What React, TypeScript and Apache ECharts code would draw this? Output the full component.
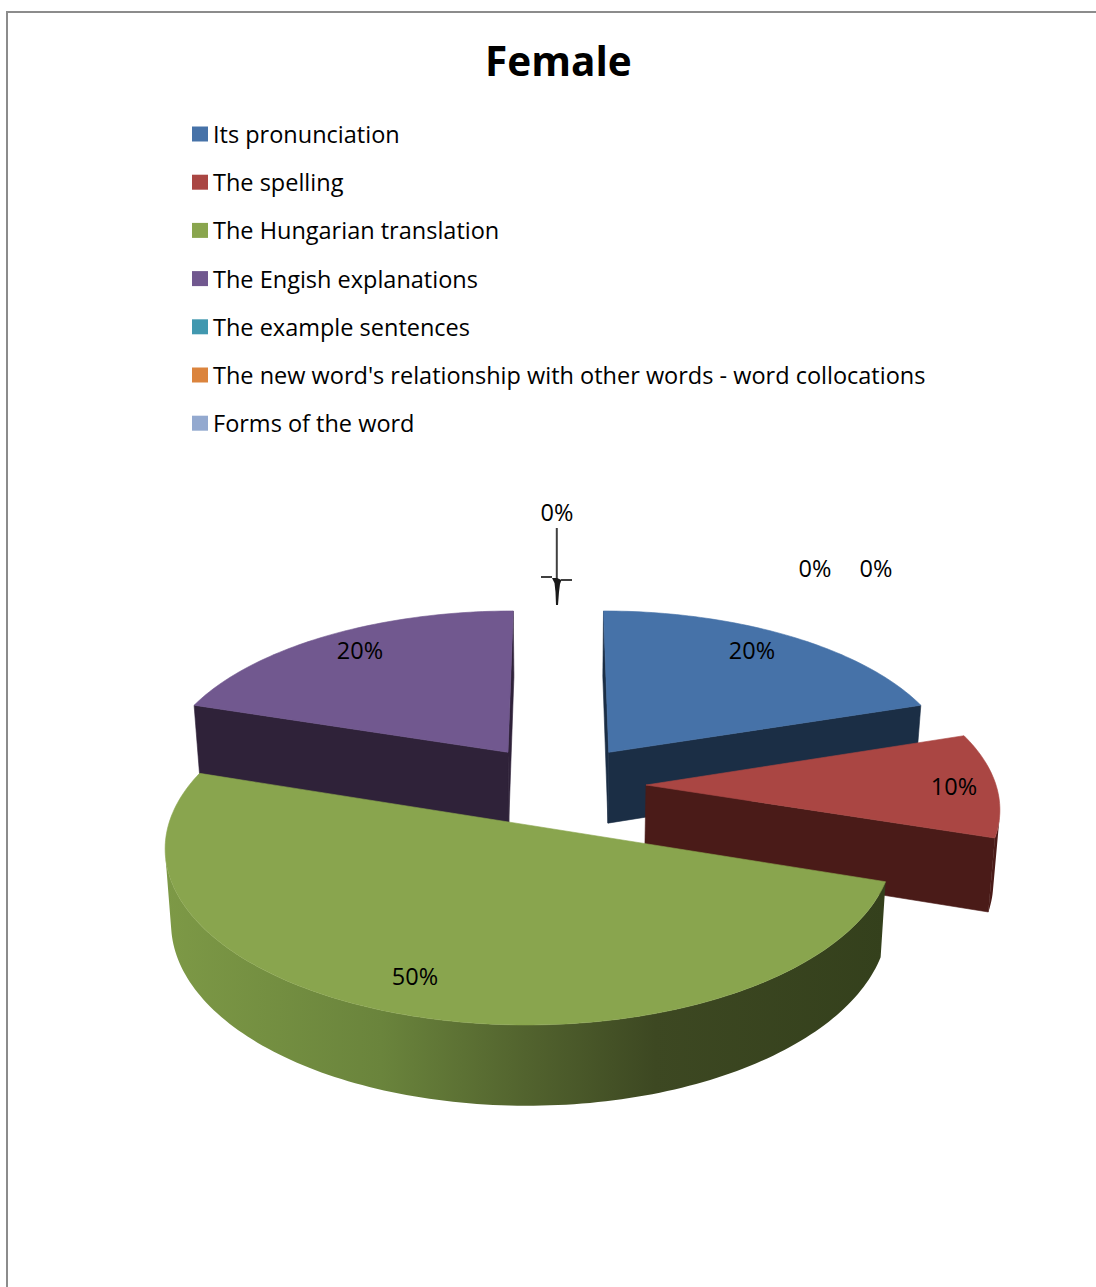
import React, { useEffect, useRef } from "react";
import * as echarts from "echarts";

const titleText = "Female";
const categories = [
  "Its pronunciation",
  "The spelling",
  "The Hungarian translation",
  "The Engish explanations",
  "The example sentences",
  "The new word's relationship with other words - word collocations",
  "Forms of the word",
];
const shareValues = [20, 10, 50, 20, 0, 0, 0];
const topColors = ["#4672A8", "#AA4643", "#89A54E", "#71588F", "#4198AF", "#DB843D", "#93A9CF"];
const sideColors = ["#1B2E45", "#4A1B18", "#4D5F2B", "#2F2239", "#1A3D46", "#583518", "#3B4453"];
const paintOrder = [2, 4, 5, 1, 6, 6, 6];

// Layout of the pie (projection of an exploded 3D pie with a slight perspective)
const CX = 558.5, CY = 785, RX = 350, RX_LEFT = 352, TILT = 165.4, PERSP = 0.1186, DEPTH = 72, BOTTOM_SCALE = 0.985, EXPLODE = 0.25;
const labelAnchors = [
  [752, 650], [954, 786], [415, 976], [360, 650], [815, 568], [876, 568], [557, 512],
];
const FONT = "Open Sans";
const total = shareValues.reduce((a, b) => a + b, 0);

function project(X: number, Z: number, bottom: boolean) {
  const s = 1 / (1 - PERSP * Z);
  const b = bottom ? BOTTOM_SCALE : 1;
  return [CX + X * (X < 0 ? RX_LEFT : RX) * s * b, CY + Z * TILT * s * b + (bottom ? DEPTH * s : 0)];
}

function area(pts: number[][]) {
  let a = 0;
  for (let i = 0; i < pts.length; i++) {
    const p = pts[i], q = pts[(i + 1) % pts.length];
    a += p[0] * q[1] - q[0] * p[1];
  }
  return a / 2;
}

function makeRenderItem(index: number) {
  return (_params: any, api: any) => {
    const value = api.value(0);
    const before = shareValues.slice(0, index).reduce((a, b) => a + b, 0);
    const a0 = (before / total) * Math.PI * 2;
    const a1 = ((before + value) / total) * Math.PI * 2;
    const mid = (a0 + a1) / 2;
    const children: any[] = [];
    if (value > 0) {
      const ox = EXPLODE * Math.sin(mid), oz = -EXPLODE * Math.cos(mid);
      const at = (a: number, r: number, bottom: boolean) =>
        project(ox + r * Math.sin(a), oz - r * Math.cos(a), bottom);
      const steps = Math.max(8, Math.round((a1 - a0) / 0.02));
      const angles: number[] = [];
      for (let i = 0; i <= steps; i++) angles.push(a0 + ((a1 - a0) * i) / steps);
      const top = angles.map((a) => at(a, 1, false));
      const bot = angles.map((a) => at(a, 1, true));
      const apexT = at(0, 0, false), apexB = at(0, 0, true);
      const side = sideColors[index];
      const poly = (points: number[][], fill: any, stroke: any) => ({
        type: "polygon",
        shape: { points },
        style: { fill, stroke, lineWidth: 0.6 },
      });
      const startFace = [top[0], apexT, apexB, bot[0]];
      const endFace = [apexT, top[steps], bot[steps], apexB];
      if (area(startFace) > 0) children.push(poly(startFace, side, side));
      if (area(endFace) > 0) children.push(poly(endFace, side, side));
      const wallTop: number[][] = [];
      const wallBot: number[][] = [];
      for (let i = 0; i < steps; i++) {
        const q = [top[i + 1], top[i], bot[i], bot[i + 1]];
        if (area(q) > 0) {
          if (!wallTop.length) { wallTop.push(top[i]); wallBot.push(bot[i]); }
          wallTop.push(top[i + 1]);
          wallBot.push(bot[i + 1]);
        }
      }
      if (wallTop.length) {
        const fill =
          index === 2
            ? new echarts.graphic.LinearGradient(0, 0, 1, 0, [
                { offset: 0, color: "#7D9946" },
                { offset: 0.3, color: "#6A843C" },
                { offset: 0.5, color: "#52632E" },
                { offset: 0.68, color: "#3D4822" },
                { offset: 1, color: "#34401C" },
              ])
            : side;
        children.push(poly([...wallTop, ...wallBot.reverse()], fill, null));
      }
      children.push(poly([apexT, ...top], topColors[index], topColors[index]));
    }
    const [lx, ly] = labelAnchors[index];
    children.push({
      type: "text",
      x: lx,
      y: ly,
      style: {
        text: Math.round((value / total) * 100) + "%",
        fill: "#000",
        font: `23.5px "${FONT}"`,
        align: "center",
        verticalAlign: "middle",
      },
    });
    return { type: "group", children };
  };
}

export default function App() {
  const ref = useRef<HTMLDivElement>(null);
  useEffect(() => {
    const chart = echarts.init(ref.current!, null, { renderer: "svg" });
    chart.setOption({
      animation: false,
      backgroundColor: "#fff",
      title: {
        text: titleText,
        left: 480,
        top: 35,
        textStyle: { fontFamily: FONT, fontWeight: "bold", fontSize: 40.5, color: "#000" },
      },
      legend: {
        orient: "vertical",
        left: 192,
        top: 122,
        padding: 0,
        icon: "rect",
        itemWidth: 16,
        itemHeight: 15,
        itemGap: 24.2,
        data: categories,
        selectedMode: false,
        textStyle: { fontFamily: FONT, fontSize: 23.5, color: "#000" },
      },
      graphic: [
        { type: "line", shape: { x1: 7, y1: 1287, x2: 7, y2: 12 }, style: { stroke: "#8C8C8C", lineWidth: 2 } },
        { type: "line", shape: { x1: 6, y1: 12, x2: 1096, y2: 12 }, style: { stroke: "#8C8C8C", lineWidth: 2 } },
        { type: "line", shape: { x1: 556.8, y1: 528, x2: 556.8, y2: 590 }, style: { stroke: "#404040", lineWidth: 2 } },
        { type: "polygon", shape: { points: [[552, 578], [554.5, 583], [555.5, 592], [556, 605], [558, 605], [559, 592], [560, 584], [561.5, 580], [557, 578]] }, style: { fill: "#1A1A1A" } },
        { type: "polyline", shape: { points: [[541, 577], [552, 577]] }, style: { stroke: "#404040", lineWidth: 2, fill: null } },
        { type: "polyline", shape: { points: [[561, 580], [572, 580]] }, style: { stroke: "#404040", lineWidth: 2, fill: null } },
      ],
      series: categories.map((name, i) => ({
        type: "custom",
        name,
        coordinateSystem: "none",
        silent: true,
        z: paintOrder[i],
        itemStyle: { color: topColors[i] },
        data: [[shareValues[i]]],
        renderItem: makeRenderItem(i),
      })),
    });
    return () => chart.dispose();
  }, []);
  return <div ref={ref} style={{ position: "fixed", left: 0, top: 0, width: 1096, height: 1287 }} />;
}
